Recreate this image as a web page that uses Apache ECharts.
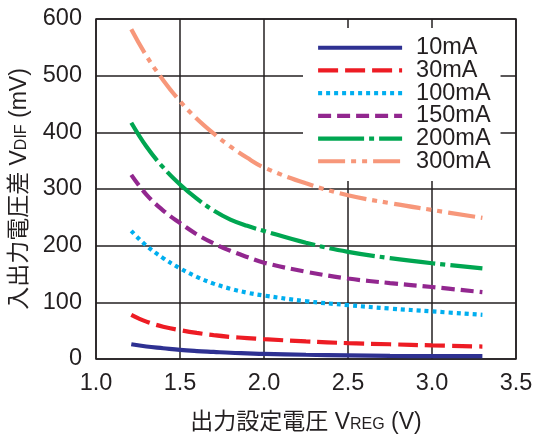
<!DOCTYPE html>
<html><head><meta charset="utf-8">
<script src="https://cdn.jsdelivr.net/npm/echarts@6/dist/echarts.min.js"></script>
<style>html,body{margin:0;padding:0;background:#fff}#c{width:536px;height:434px}</style>
</head><body><div id="c"></div>
<script>
var xs = [1.21,1.3,1.4,1.5,1.6,1.7,1.8,1.9,2.0,2.25,2.5,2.75,3.0,3.3];
var names = ['10mA','30mA','100mA','150mA','200mA','300mA'];
var v10  = [26,22,19,16,14,12.5,11,10,9,7.5,6.5,5.5,5,5];
var v30  = [78,66,57,51,46,42,39,37,35,31,28,26,24,22];
var v100 = [226,200,178,160,145,133,124,117,112,102,95,89,84,78];
var v150 = [325,290,262,240,220,204,191,180,170,154,142,134,127,118];
var v200 = [417,375,338,308,283,262,246,235,226,205,189,178,169,160];
var v300 = [582,535,492,455,424,398,375,355,338,310,289,275,263,249];
var xTicks = ['1.0','1.5','2.0','2.5','3.0','3.5'];
var yTicks = ['0','100','200','300','400','500','600'];

var vals = [v10,v30,v100,v150,v200,v300];
var colors = ['#2e3192','#ed1c24','#00aeef','#92278f','#00a651','#f7977a'];
var dashes = ['solid',[20,7],[4,4],[13,6],[46,5,5,5],[27,6,5,6,5,6]];
var font = "'Liberation Sans','Noto Sans CJK JP',sans-serif";
var ink = '#231f20';

var series = names.map(function(n,i){
  return {
    name: n, type: 'line', smooth: 0.4, symbol: 'none', z: 5,
    data: xs.map(function(x,j){ return [x, vals[i][j]]; }),
    lineStyle: {color: colors[i], width: 4.2, type: dashes[i], cap: 'butt'},
    itemStyle: {color: colors[i]}
  };
});

var nameRich = {
  a: {fontSize: 23, color: ink, fontFamily: font},
  s: {fontSize: 16, color: ink, fontFamily: font, padding: [5,0,0,0]}
};

var chart = echarts.init(document.getElementById('c'));
chart.setOption({
  animation: false,
  backgroundColor: '#fff',
  grid: {left: 96, right: 20, top: 19, bottom: 75, show: true, borderColor: ink, borderWidth: 1.5,
         containLabel: false, outerBoundsMode: 'none'},
  xAxis: {
    type: 'value', min: 1.0, max: 3.5, interval: 0.5,
    axisLine: {show: false}, axisTick: {show: false},
    splitLine: {lineStyle: {color: ink, width: 1.5}},
    axisLabel: {color: ink, fontSize: 23.5, fontFamily: font, margin: 13,
      formatter: function(v){ return xTicks[Math.round((v-1.0)/0.5)]; }},
    name: '{a|出力設定電圧 V}{s|REG}{a| (V)}', nameLocation: 'middle', nameGap: 52,
    nameTextStyle: {rich: nameRich}
  },
  yAxis: {
    type: 'value', min: 0, max: 600, interval: 100,
    axisLine: {show: false}, axisTick: {show: false},
    splitLine: {lineStyle: {color: ink, width: 1.5}},
    axisLabel: {color: ink, fontSize: 23.5, fontFamily: font, margin: 14,
      formatter: function(v){ return yTicks[Math.round(v/100)]; }},
    name: '{a|入出力電圧差 V}{s|DIF}{a| (mV)}', nameLocation: 'middle', nameGap: 65, nameRotate: 90,
    nameTextStyle: {rich: nameRich}
  },
  legend: {
    orient: 'vertical', left: 303, top: 28, width: 200,
    backgroundColor: '#fff', padding: [8, 10, 8, 13], z: 3,
    itemWidth: 84, itemHeight: 14, itemGap: -0.8,
    itemStyle: {opacity: 0},
    lineStyle: {width: 4.2},
    textStyle: {color: ink, fontSize: 23.5, fontFamily: font, lineHeight: 20, padding: [0,0,0,9]},
    data: names
  },
  series: series
});
</script></body></html>
